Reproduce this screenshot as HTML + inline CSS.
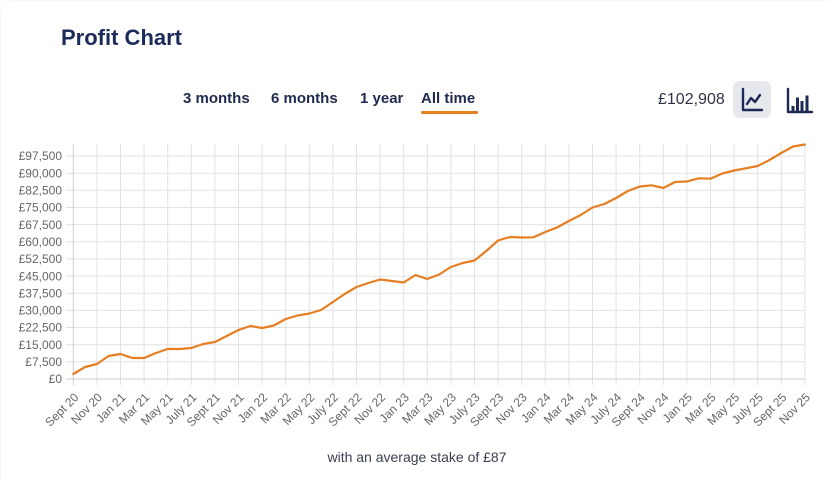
<!DOCTYPE html>
<html><head><meta charset="utf-8"><style>
html,body{margin:0;padding:0;background:#fff;}
body{width:828px;height:479px;overflow:hidden;position:relative;font-family:"Liberation Sans",Arial,sans-serif;}
svg{position:absolute;left:0;top:0;}
</style></head><body>
<svg width="828" height="479" viewBox="0 0 828 479" xmlns="http://www.w3.org/2000/svg" font-family="Liberation Sans, Arial, sans-serif">
<rect x="0.5" y="0.5" width="840" height="500" rx="14" fill="#fff" stroke="#f6f6f6"/>
<text x="61" y="45" font-size="22" font-weight="bold" fill="#1c2b59">Profit Chart</text>
<g font-size="15" font-weight="bold" fill="#1e2a4f">
<text x="183" y="103">3 months</text>
<text x="271" y="103">6 months</text>
<text x="360" y="103">1 year</text>
<text x="421" y="103">All time</text>
</g>
<rect x="421" y="111" width="57" height="3" rx="1.5" fill="#e67e22"/>
<text x="658" y="104" font-size="16" fill="#2f3347">£102,908</text>
<rect x="733" y="81" width="38" height="37" rx="7" fill="#e6e8ee"/>
<g fill="none" stroke="#1e2a55" stroke-width="2.4" stroke-linecap="round" stroke-linejoin="round">
<polyline points="743,89 743,110 762,110"/>
<polyline points="747,104 751,98 755,102 760,95"/>
<polyline points="788,89 788,112 812,112"/>
</g>
<g fill="#1e2a55">
<rect x="791.5" y="106" width="3" height="5"/>
<rect x="796" y="97.5" width="3" height="13.5"/>
<rect x="800.5" y="101" width="3" height="10"/>
<rect x="805.5" y="95.5" width="3" height="15.5"/>
</g>
<g stroke="#e2e2e2" stroke-width="1">
<line x1="66" x2="805" y1="379" y2="379" stroke="#cfcfcf"/>
<line x1="66" x2="805" y1="361.8" y2="361.8"/>
<line x1="66" x2="805" y1="344.7" y2="344.7"/>
<line x1="66" x2="805" y1="327.5" y2="327.5"/>
<line x1="66" x2="805" y1="310.4" y2="310.4"/>
<line x1="66" x2="805" y1="293.2" y2="293.2"/>
<line x1="66" x2="805" y1="276.1" y2="276.1"/>
<line x1="66" x2="805" y1="258.9" y2="258.9"/>
<line x1="66" x2="805" y1="241.8" y2="241.8"/>
<line x1="66" x2="805" y1="224.6" y2="224.6"/>
<line x1="66" x2="805" y1="207.5" y2="207.5"/>
<line x1="66" x2="805" y1="190.3" y2="190.3"/>
<line x1="66" x2="805" y1="173.2" y2="173.2"/>
<line x1="66" x2="805" y1="156" y2="156"/>
</g>
<g stroke="#e2e2e2" stroke-width="1">
<line x1="73.3" x2="73.3" y1="144" y2="385" stroke="#cfcfcf"/>
<line x1="96.9" x2="96.9" y1="144" y2="385"/>
<line x1="120.5" x2="120.5" y1="144" y2="385"/>
<line x1="144.1" x2="144.1" y1="144" y2="385"/>
<line x1="167.7" x2="167.7" y1="144" y2="385"/>
<line x1="191.3" x2="191.3" y1="144" y2="385"/>
<line x1="214.9" x2="214.9" y1="144" y2="385"/>
<line x1="238.5" x2="238.5" y1="144" y2="385"/>
<line x1="262.1" x2="262.1" y1="144" y2="385"/>
<line x1="285.7" x2="285.7" y1="144" y2="385"/>
<line x1="309.3" x2="309.3" y1="144" y2="385"/>
<line x1="332.9" x2="332.9" y1="144" y2="385"/>
<line x1="356.5" x2="356.5" y1="144" y2="385"/>
<line x1="380.1" x2="380.1" y1="144" y2="385"/>
<line x1="403.7" x2="403.7" y1="144" y2="385"/>
<line x1="427.3" x2="427.3" y1="144" y2="385"/>
<line x1="450.9" x2="450.9" y1="144" y2="385"/>
<line x1="474.5" x2="474.5" y1="144" y2="385"/>
<line x1="498.1" x2="498.1" y1="144" y2="385"/>
<line x1="521.7" x2="521.7" y1="144" y2="385"/>
<line x1="545.3" x2="545.3" y1="144" y2="385"/>
<line x1="568.9" x2="568.9" y1="144" y2="385"/>
<line x1="592.5" x2="592.5" y1="144" y2="385"/>
<line x1="616.1" x2="616.1" y1="144" y2="385"/>
<line x1="639.7" x2="639.7" y1="144" y2="385"/>
<line x1="663.3" x2="663.3" y1="144" y2="385"/>
<line x1="686.9" x2="686.9" y1="144" y2="385"/>
<line x1="710.5" x2="710.5" y1="144" y2="385"/>
<line x1="734.1" x2="734.1" y1="144" y2="385"/>
<line x1="757.7" x2="757.7" y1="144" y2="385"/>
<line x1="781.3" x2="781.3" y1="144" y2="385"/>
<line x1="804.9" x2="804.9" y1="144" y2="385"/>
</g>
<g font-size="12" fill="#666" text-anchor="end">
<text x="62" y="383">£0</text>
<text x="62" y="366">£7,500</text>
<text x="62" y="349">£15,000</text>
<text x="62" y="331.7">£22,500</text>
<text x="62" y="314.6">£30,000</text>
<text x="62" y="297.4">£37,500</text>
<text x="62" y="280.3">£45,000</text>
<text x="62" y="263.1">£52,500</text>
<text x="62" y="246">£60,000</text>
<text x="62" y="228.8">£67,500</text>
<text x="62" y="211.7">£75,000</text>
<text x="62" y="194.5">£82,500</text>
<text x="62" y="177.4">£90,000</text>
<text x="62" y="160.2">£97,500</text>
</g>
<g font-size="12" fill="#666" text-anchor="end">
<text transform="translate(79.3,398) rotate(-45)">Sept 20</text>
<text transform="translate(102.9,398) rotate(-45)">Nov 20</text>
<text transform="translate(126.5,398) rotate(-45)">Jan 21</text>
<text transform="translate(150.1,398) rotate(-45)">Mar 21</text>
<text transform="translate(173.7,398) rotate(-45)">May 21</text>
<text transform="translate(197.3,398) rotate(-45)">July 21</text>
<text transform="translate(220.9,398) rotate(-45)">Sept 21</text>
<text transform="translate(244.5,398) rotate(-45)">Nov 21</text>
<text transform="translate(268.1,398) rotate(-45)">Jan 22</text>
<text transform="translate(291.7,398) rotate(-45)">Mar 22</text>
<text transform="translate(315.3,398) rotate(-45)">May 22</text>
<text transform="translate(338.9,398) rotate(-45)">July 22</text>
<text transform="translate(362.5,398) rotate(-45)">Sept 22</text>
<text transform="translate(386.1,398) rotate(-45)">Nov 22</text>
<text transform="translate(409.7,398) rotate(-45)">Jan 23</text>
<text transform="translate(433.3,398) rotate(-45)">Mar 23</text>
<text transform="translate(456.9,398) rotate(-45)">May 23</text>
<text transform="translate(480.5,398) rotate(-45)">July 23</text>
<text transform="translate(504.1,398) rotate(-45)">Sept 23</text>
<text transform="translate(527.7,398) rotate(-45)">Nov 23</text>
<text transform="translate(551.3,398) rotate(-45)">Jan 24</text>
<text transform="translate(574.9,398) rotate(-45)">Mar 24</text>
<text transform="translate(598.5,398) rotate(-45)">May 24</text>
<text transform="translate(622.1,398) rotate(-45)">July 24</text>
<text transform="translate(645.7,398) rotate(-45)">Sept 24</text>
<text transform="translate(669.3,398) rotate(-45)">Nov 24</text>
<text transform="translate(692.9,398) rotate(-45)">Jan 25</text>
<text transform="translate(716.5,398) rotate(-45)">Mar 25</text>
<text transform="translate(740.1,398) rotate(-45)">May 25</text>
<text transform="translate(763.7,398) rotate(-45)">July 25</text>
<text transform="translate(787.3,398) rotate(-45)">Sept 25</text>
<text transform="translate(810.9,398) rotate(-45)">Nov 25</text>
</g>
<polyline fill="none" stroke="#e67e22" stroke-width="2.2" stroke-linejoin="round" stroke-linecap="round" points="
73.3,374 85.1,367 96.9,364 108.7,356 120.5,354 132.3,358 144.1,358 155.9,353 167.7,349 179.5,349
191.3,348 203.1,344 214.9,342 226.7,336 238.5,330 250.3,326 262.1,328 273.9,325.5 285.7,319 297.5,315.5
309.3,313.5 321.1,310 332.9,302 344.7,294 356.5,287 368.3,283 380.1,279.5 391.9,281 403.7,282.5 415.5,275
427.3,279 439.1,274.5 450.9,267 462.7,263 474.5,260.5 486.3,251 498.1,240.5 509.9,237 521.7,237.5 533.5,237.3
545.3,232 557.1,227.5 568.9,221 580.7,215 592.5,207.5 604.3,204 616.1,198 627.9,191 639.7,186.5 651.5,185.3
663.3,188 675.1,182 686.9,181.5 698.7,178.3 710.5,178.7 722.3,173.5 734.1,170.5 745.9,168.3 757.7,166 769.5,160
781.3,153 793.1,146.5 804.9,144.5"/>
<text x="417" y="462" font-size="14" fill="#3a3e52" text-anchor="middle">with an average stake of £87</text>
</svg>
</body></html>
